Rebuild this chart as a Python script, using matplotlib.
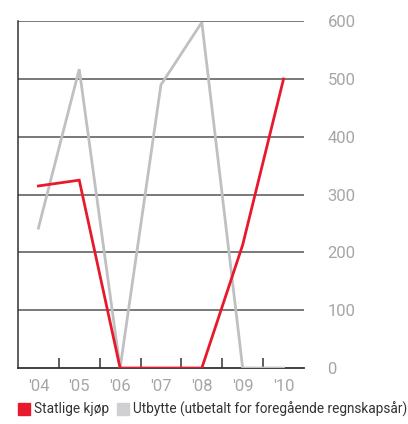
import matplotlib.pyplot as plt
from matplotlib.patches import Patch

plt.rcParams['font.family'] = ['Roboto', 'DejaVu Sans']

years = ["'04", "'05", "'06", "'07", "'08", "'09", "'10"]
statlige_kjop = [315, 325, 0, 0, 0, 213, 500]
utbytte = [242, 517, 0, 490, 598, 0, 0]

red = '#e8192c'
grey = '#c0c0c2'

fig = plt.figure(figsize=(4.08, 4.24), dpi=100)
ax = fig.add_axes([0.044, 0.132, 0.701, 0.818])

x = list(range(len(years)))
ax.plot(x, utbytte, color=grey, lw=2.0, zorder=3, solid_joinstyle='miter')
ax.plot(x, statlige_kjop, color=red, lw=2.0, zorder=4, solid_joinstyle='miter')

ax.set_xlim(-0.5, len(years) - 0.5)
ax.set_ylim(0, 600)
ax.set_yticks(range(0, 601, 100))
for v in range(100, 601, 100):
    ax.axhline(v, color='#555555', lw=1.1, zorder=1)

ax.yaxis.tick_right()
ax.tick_params(axis='y', length=0, pad=17, labelsize=12, labelcolor='#a6a6a6')
ax.set_xticks(x)
ax.set_xticklabels(years)
ax.tick_params(axis='x', length=0, pad=8, labelsize=12, labelcolor='#a6a6a6')
ax.set_xticks([i + 0.5 for i in range(len(years) - 1)], minor=True)
ax.tick_params(axis='x', which='minor', direction='in', length=7, width=1.1, color='#333333')

for s in ['top', 'right']:
    ax.spines[s].set_visible(False)
ax.spines['left'].set_color('#333333')
ax.spines['bottom'].set_color('#333333')
ax.spines['left'].set_linewidth(1.1)
ax.spines['bottom'].set_linewidth(1.3)

handles = [Patch(color=red, label='Statlige kjøp'),
           Patch(color='#d0d0d2', label='Utbytte (utbetalt for foregående regnskapsår)')]
fig.legend(handles=handles, loc='lower left', bbox_to_anchor=(0.015, -0.012), ncol=2,
           frameon=False, fontsize=9.8, handlelength=0.85, handleheight=0.95,
           handletextpad=0.3, columnspacing=0.6, labelcolor='#333333')

fig.savefig('out.png', dpi=100)
